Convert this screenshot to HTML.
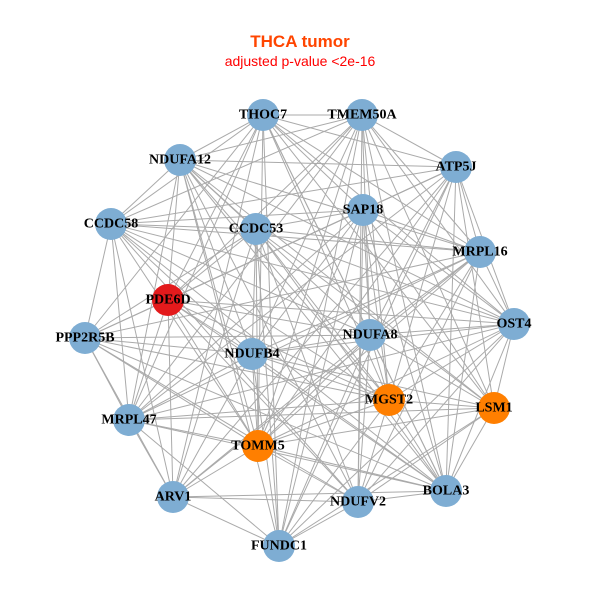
<!DOCTYPE html>
<html><head><meta charset="utf-8"><style>
html,body{margin:0;padding:0;background:#fff;width:600px;height:600px;overflow:hidden}
svg{display:block}
.l{font-family:"Liberation Serif",serif;font-weight:bold;font-size:14px;fill:#000;text-anchor:middle;dominant-baseline:central}
</style></head><body>
<svg id="s" width="600" height="600" viewBox="0 0 600 600">
<text x="300" y="47" text-anchor="middle" font-family="Liberation Sans,sans-serif" font-weight="bold" font-size="17" fill="#FF4500">THCA tumor</text>
<text x="300" y="66" text-anchor="middle" font-family="Liberation Sans,sans-serif" font-size="14" fill="#FF0000">adjusted p-value &lt;2e-16</text>
<g id="e" stroke="#aaaaaa" stroke-width="1"></g>
<g id="n"></g>
<g>
<text class="l" x="263" y="115">THOC7</text>
<text class="l" x="362" y="115">TMEM50A</text>
<text class="l" x="180" y="160">NDUFA12</text>
<text class="l" x="456" y="167">ATP5J</text>
<text class="l" x="111" y="224">CCDC58</text>
<text class="l" x="363" y="210">SAP18</text>
<text class="l" x="256" y="229">CCDC53</text>
<text class="l" x="480" y="252">MRPL16</text>
<text class="l" x="168" y="300">PDE6D</text>
<text class="l" x="370" y="335">NDUFA8</text>
<text class="l" x="514" y="324">OST4</text>
<text class="l" x="85" y="338">PPP2R5B</text>
<text class="l" x="252" y="354">NDUFB4</text>
<text class="l" x="389" y="400">MGST2</text>
<text class="l" x="494" y="408">LSM1</text>
<text class="l" x="129" y="420">MRPL47</text>
<text class="l" x="258" y="446">TOMM5</text>
<text class="l" x="173" y="497">ARV1</text>
<text class="l" x="358" y="502">NDUFV2</text>
<text class="l" x="446" y="491">BOLA3</text>
<text class="l" x="279" y="546">FUNDC1</text>
</g>
</svg>
<script>
var N=[[263,115,0],[362,115,0],[180,160,0],[456,167,0],[111,224,0],[363,210,0],[256,229,0],[480,252,0],[168,300,2],[370,335,0],[514,324,0],[85,338,0],[252,354,0],[389,400,1],[494,408,1],[129,420,0],[258,446,1],[173,497,0],[358,502,0],[446,491,0],[279,546,0]];
var ns="http://www.w3.org/2000/svg",e=document.getElementById('e'),g=document.getElementById('n');
var k=0;
for(var i=0;i<N.length;i++)for(var j=i+1;j<N.length;j++){k++;if(k%6==0)continue;
var l=document.createElementNS(ns,'line');l.setAttribute('x1',N[i][0]);l.setAttribute('y1',N[i][1]);l.setAttribute('x2',N[j][0]);l.setAttribute('y2',N[j][1]);e.appendChild(l);}
var C=['#7EADD3','#FF7F00','#E31A1C'];
N.forEach(function(p){var c=document.createElementNS(ns,'circle');c.setAttribute('cx',p[0]);c.setAttribute('cy',p[1]);c.setAttribute('r',16);c.setAttribute('fill',C[p[2]]);g.appendChild(c);});
</script>
</body></html>
